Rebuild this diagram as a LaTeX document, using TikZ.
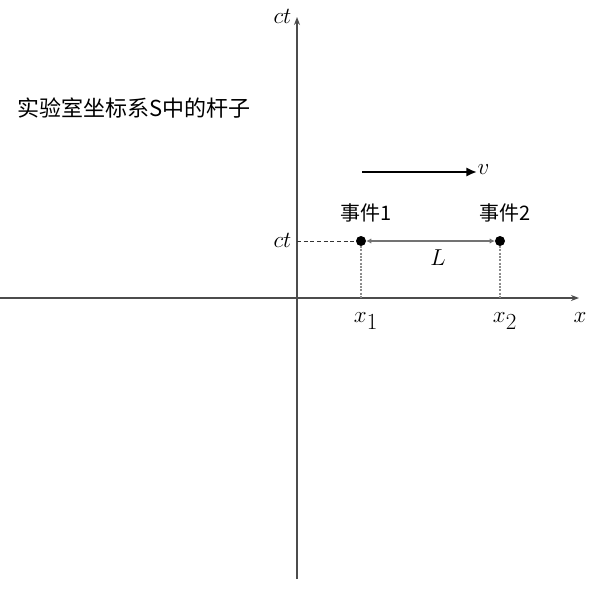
\documentclass[tikz,border=0pt]{standalone}
\usepackage{fontspec}
\newfontfamily\cjk{Noto Sans CJK SC}
\usetikzlibrary{arrows.meta}
\tikzset{
	axis/.style={draw=black!70, line width=1.1pt, -{Stealth[length=6pt, width=4.5pt]}},
	event/.style={circle, fill=black, inner sep=0pt, minimum size=7.5pt, outer sep=0pt},
	mlabel/.style={font=\fontsize{18}{21}\selectfont, inner sep=1pt},
	clabel/.style={font=\cjk\fontsize{15}{18}\selectfont, inner sep=0pt}
}
\begin{document}
\begin{tikzpicture}[x=0.75pt, y=-0.75pt]
	\useasboundingbox (0,0) rectangle (600,601);

	% axes
	\coordinate (xs) at (0,298);
	\coordinate (xe) at (579,298);
	\coordinate (ys) at (297,579);
	\coordinate (ye) at (297,17);
	\draw[axis] (xs) -- (xe);
	\draw[axis] (ys) -- (ye);
	\node[mlabel] (xl) at (580,318) {$x$};
	\node[mlabel, anchor=east] (ctt) at (293,16) {$ct$};

	\node[font=\cjk\fontsize{16.5}{20}\selectfont, anchor=west, inner sep=0pt] (title) at (17,108) {实验室坐标系S中的杆子};

	% velocity
	\coordinate (va) at (362,172);
	\coordinate (vb) at (477,172);
	\draw[line width=2pt, -{Latex[length=8pt, width=7pt]}] (va) -- (vb);
	\node[mlabel, anchor=west] (v) at (476,170) {$v$};

	% events
	\node[event] (e1) at (361,241) {};
	\node[event] (e2) at (500,241) {};
	\node[clabel] (n1) at (366,213) {事件1};
	\node[clabel] (n2) at (505,213) {事件2};
	\draw[black!55, line width=1.6pt, {Latex[length=4pt, width=4pt]}-{Latex[length=4pt, width=4pt]}] (e1) -- (e2);
	\node[mlabel] (L) at (438,258) {$L$};

	% projections
	\node[mlabel, anchor=east] (ctl) at (293,240) {$ct$};
	\draw[black!80, densely dashed, line width=0.6pt] (297,241) -- (e1);
	\draw[black!45, densely dotted, line width=1.5pt] (e1) -- (e1 |- xs);
	\draw[black!45, densely dotted, line width=1.5pt] (e2) -- (e2 |- xs);
	\node[mlabel] (x1) at (366,321) {$x_{\textstyle 1}$};
	\node[mlabel] (x2) at (505,321) {$x_{\textstyle 2}$};
\end{tikzpicture}
\end{document}
